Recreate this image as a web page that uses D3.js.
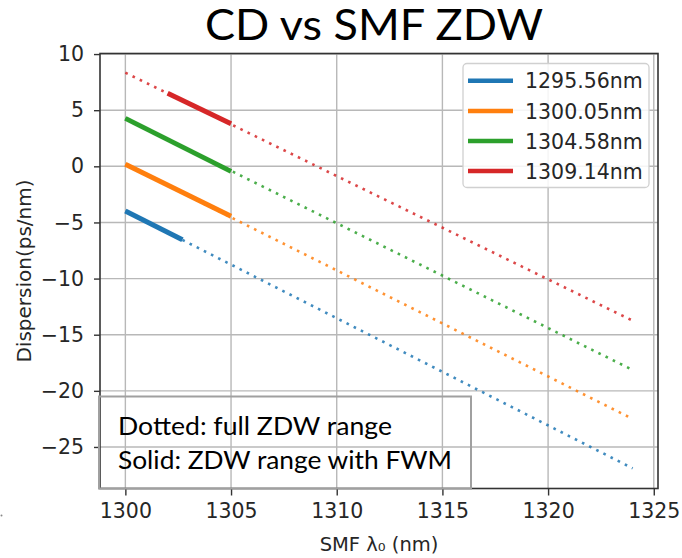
<!DOCTYPE html>
<html><head><meta charset="utf-8">
<script src="https://cdn.jsdelivr.net/npm/d3@7"></script>
<style>
html,body{margin:0;padding:0;background:#fff;}
svg{display:block;}
</style></head>
<body>
<svg id="chart" width="682" height="558"></svg>
<script>
// ---- data ----
const seriesLabels = ["1295.56nm", "1300.05nm", "1304.58nm", "1309.14nm"];
const seriesColors = ["#1f77b4", "#ff7f0e", "#2ca02c", "#d62728"];
// dotted: full ZDW range (x = SMF lambda0, nm)
const dottedX = [1300, 1324];
const dottedBlue   = [-3.98, -26.9];
const dottedOrange = [0.18, -22.5];
const dottedGreen  = [4.27, -18.14];
const dottedRed    = [8.34, -13.75];
// solid: ZDW range with FWM
const solidXBlue   = [1300, 1302.7];
const solidXOrange = [1300, 1305];
const solidXGreen  = [1300, 1305];
const solidXRed    = [1302, 1305];
const solidBlue    = [-3.98, -6.55];
const solidOrange  = [0.18, -4.45];
const solidGreen   = [4.27, -0.45];
const solidRed     = [6.5, 3.8];
const xTicks = [1300, 1305, 1310, 1315, 1320, 1325];
const yTicks = [10, 5, 0, -5, -10, -15, -20, -25];
const titleText = "CD vs SMF ZDW";
const xLabel = "SMF λ₀ (nm)";
const yLabel = "Dispersion(ps/nm)";
const noteLines = ["Dotted: full ZDW range", "Solid: ZDW range with FWM"];

const dotted = [dottedBlue, dottedOrange, dottedGreen, dottedRed];
const solidX = [solidXBlue, solidXOrange, solidXGreen, solidXRed];
const solidY = [solidBlue, solidOrange, solidGreen, solidRed];

// ---- layout ----
const L = 100, R = 658, T = 53.5, B = 488.5;
const x = d3.scaleLinear().domain([1298.8, 1325.2]).range([L, R]);
const y = d3.scaleLinear().domain([-28.7, 10.05]).range([B, T]);

const svg = d3.select("#chart");
const tickFont = "'DejaVu Sans', sans-serif";

// grid
const gridG = svg.append("g");
gridG.selectAll("line.v").data(xTicks).join("line")
  .attr("x1", d => x(d)).attr("x2", d => x(d)).attr("y1", T).attr("y2", B)
  .attr("stroke", "#b8b8b8").attr("stroke-width", 1.4);
gridG.selectAll("line.h").data(yTicks).join("line")
  .attr("y1", d => y(d)).attr("y2", d => y(d)).attr("x1", L).attr("x2", R)
  .attr("stroke", "#b8b8b8").attr("stroke-width", 1.4);

// lines
const line = d3.line().x(d => x(d[0])).y(d => y(d[1]));
dotted.forEach((vals, i) => {
  svg.append("path")
    .attr("d", line(dottedX.map((xv, j) => [xv, vals[j]])))
    .attr("fill", "none").attr("stroke", seriesColors[i])
    .attr("stroke-width", 2.6).attr("stroke-dasharray", "2.6 5.4")
    .attr("opacity", 0.85);
});
solidY.forEach((vals, i) => {
  svg.append("path")
    .attr("d", line(solidX[i].map((xv, j) => [xv, vals[j]])))
    .attr("fill", "none").attr("stroke", seriesColors[i])
    .attr("stroke-width", 5);
});

// axes
const xAxis = d3.axisBottom(x).tickValues(xTicks).tickSize(7).tickPadding(7.5).tickFormat(d3.format("d"));
const yAxis = d3.axisLeft(y).tickValues(yTicks).tickSize(6).tickPadding(10).tickFormat(d3.format("d"));
const gx = svg.append("g").attr("transform", `translate(0,${B})`).call(xAxis);
const gy = svg.append("g").attr("transform", `translate(${L},0)`).call(yAxis);
[gx, gy].forEach(g => {
  g.select(".domain").remove();
  g.selectAll(".tick line").attr("stroke", "#333").attr("stroke-width", 1.4);
  g.selectAll(".tick text").attr("fill", "#262626")
    .style("font-family", tickFont).style("font-size", "20.5px");
});

// spines
svg.append("rect").attr("x", L).attr("y", T).attr("width", R - L).attr("height", B - T)
  .attr("fill", "none").attr("stroke", "#333").attr("stroke-width", 1.6);

// axis labels
svg.append("text").attr("x", (L + R) / 2).attr("y", 551).attr("text-anchor", "middle")
  .style("font-family", tickFont).style("font-size", "19.5px").attr("fill", "#262626")
  .text(xLabel);
svg.append("text").attr("transform", `translate(31,${(T + B) / 2}) rotate(-90)`)
  .attr("text-anchor", "middle")
  .style("font-family", tickFont).style("font-size", "20px").attr("fill", "#262626")
  .text(yLabel);

// legend
const lg = svg.append("g");
lg.append("rect").attr("x", 463).attr("y", 63.5).attr("width", 186).attr("height", 124).attr("rx", 4)
  .attr("fill", "#fff").attr("fill-opacity", 0.85).attr("stroke", "#d0d0d0").attr("stroke-width", 1.3);
const legendY = [80.7, 111, 141, 171];
seriesLabels.forEach((lab, i) => {
  lg.append("line").attr("x1", 468).attr("x2", 513).attr("y1", legendY[i]).attr("y2", legendY[i])
    .attr("stroke", seriesColors[i]).attr("stroke-width", 4.5);
  lg.append("text").attr("x", 525).attr("y", legendY[i] + 7.5)
    .style("font-family", tickFont).style("font-size", "20.5px").attr("fill", "#262626")
    .text(lab);
});

// note box
svg.append("rect").attr("x", 99).attr("y", 396.5).attr("width", 372).attr("height", 92)
  .attr("fill", "none").attr("stroke", "#a0a0a0").attr("stroke-width", 2);
const noteFont = "Lato, 'Open Sans', sans-serif";
const noteW = [274, 334];
const noteBase = [435, 468.5];
noteLines.forEach((t, i) => {
  svg.append("text").attr("x", 118).attr("y", noteBase[i])
    .attr("textLength", noteW[i]).attr("lengthAdjust", "spacingAndGlyphs")
    .style("font-family", noteFont).style("font-size", "25.5px").attr("fill", "#000")
    .text(t);
});

// title
svg.append("text").attr("x", 205).attr("y", 40)
  .attr("textLength", 338).attr("lengthAdjust", "spacingAndGlyphs")
  .style("font-family", noteFont).style("font-size", "42px").attr("fill", "#000")
  .text(titleText);

// small artifact at left
svg.append("circle").attr("cx", 1.5).attr("cy", 515.5).attr("r", 1).attr("fill", "#888");
</script>
</body></html>
